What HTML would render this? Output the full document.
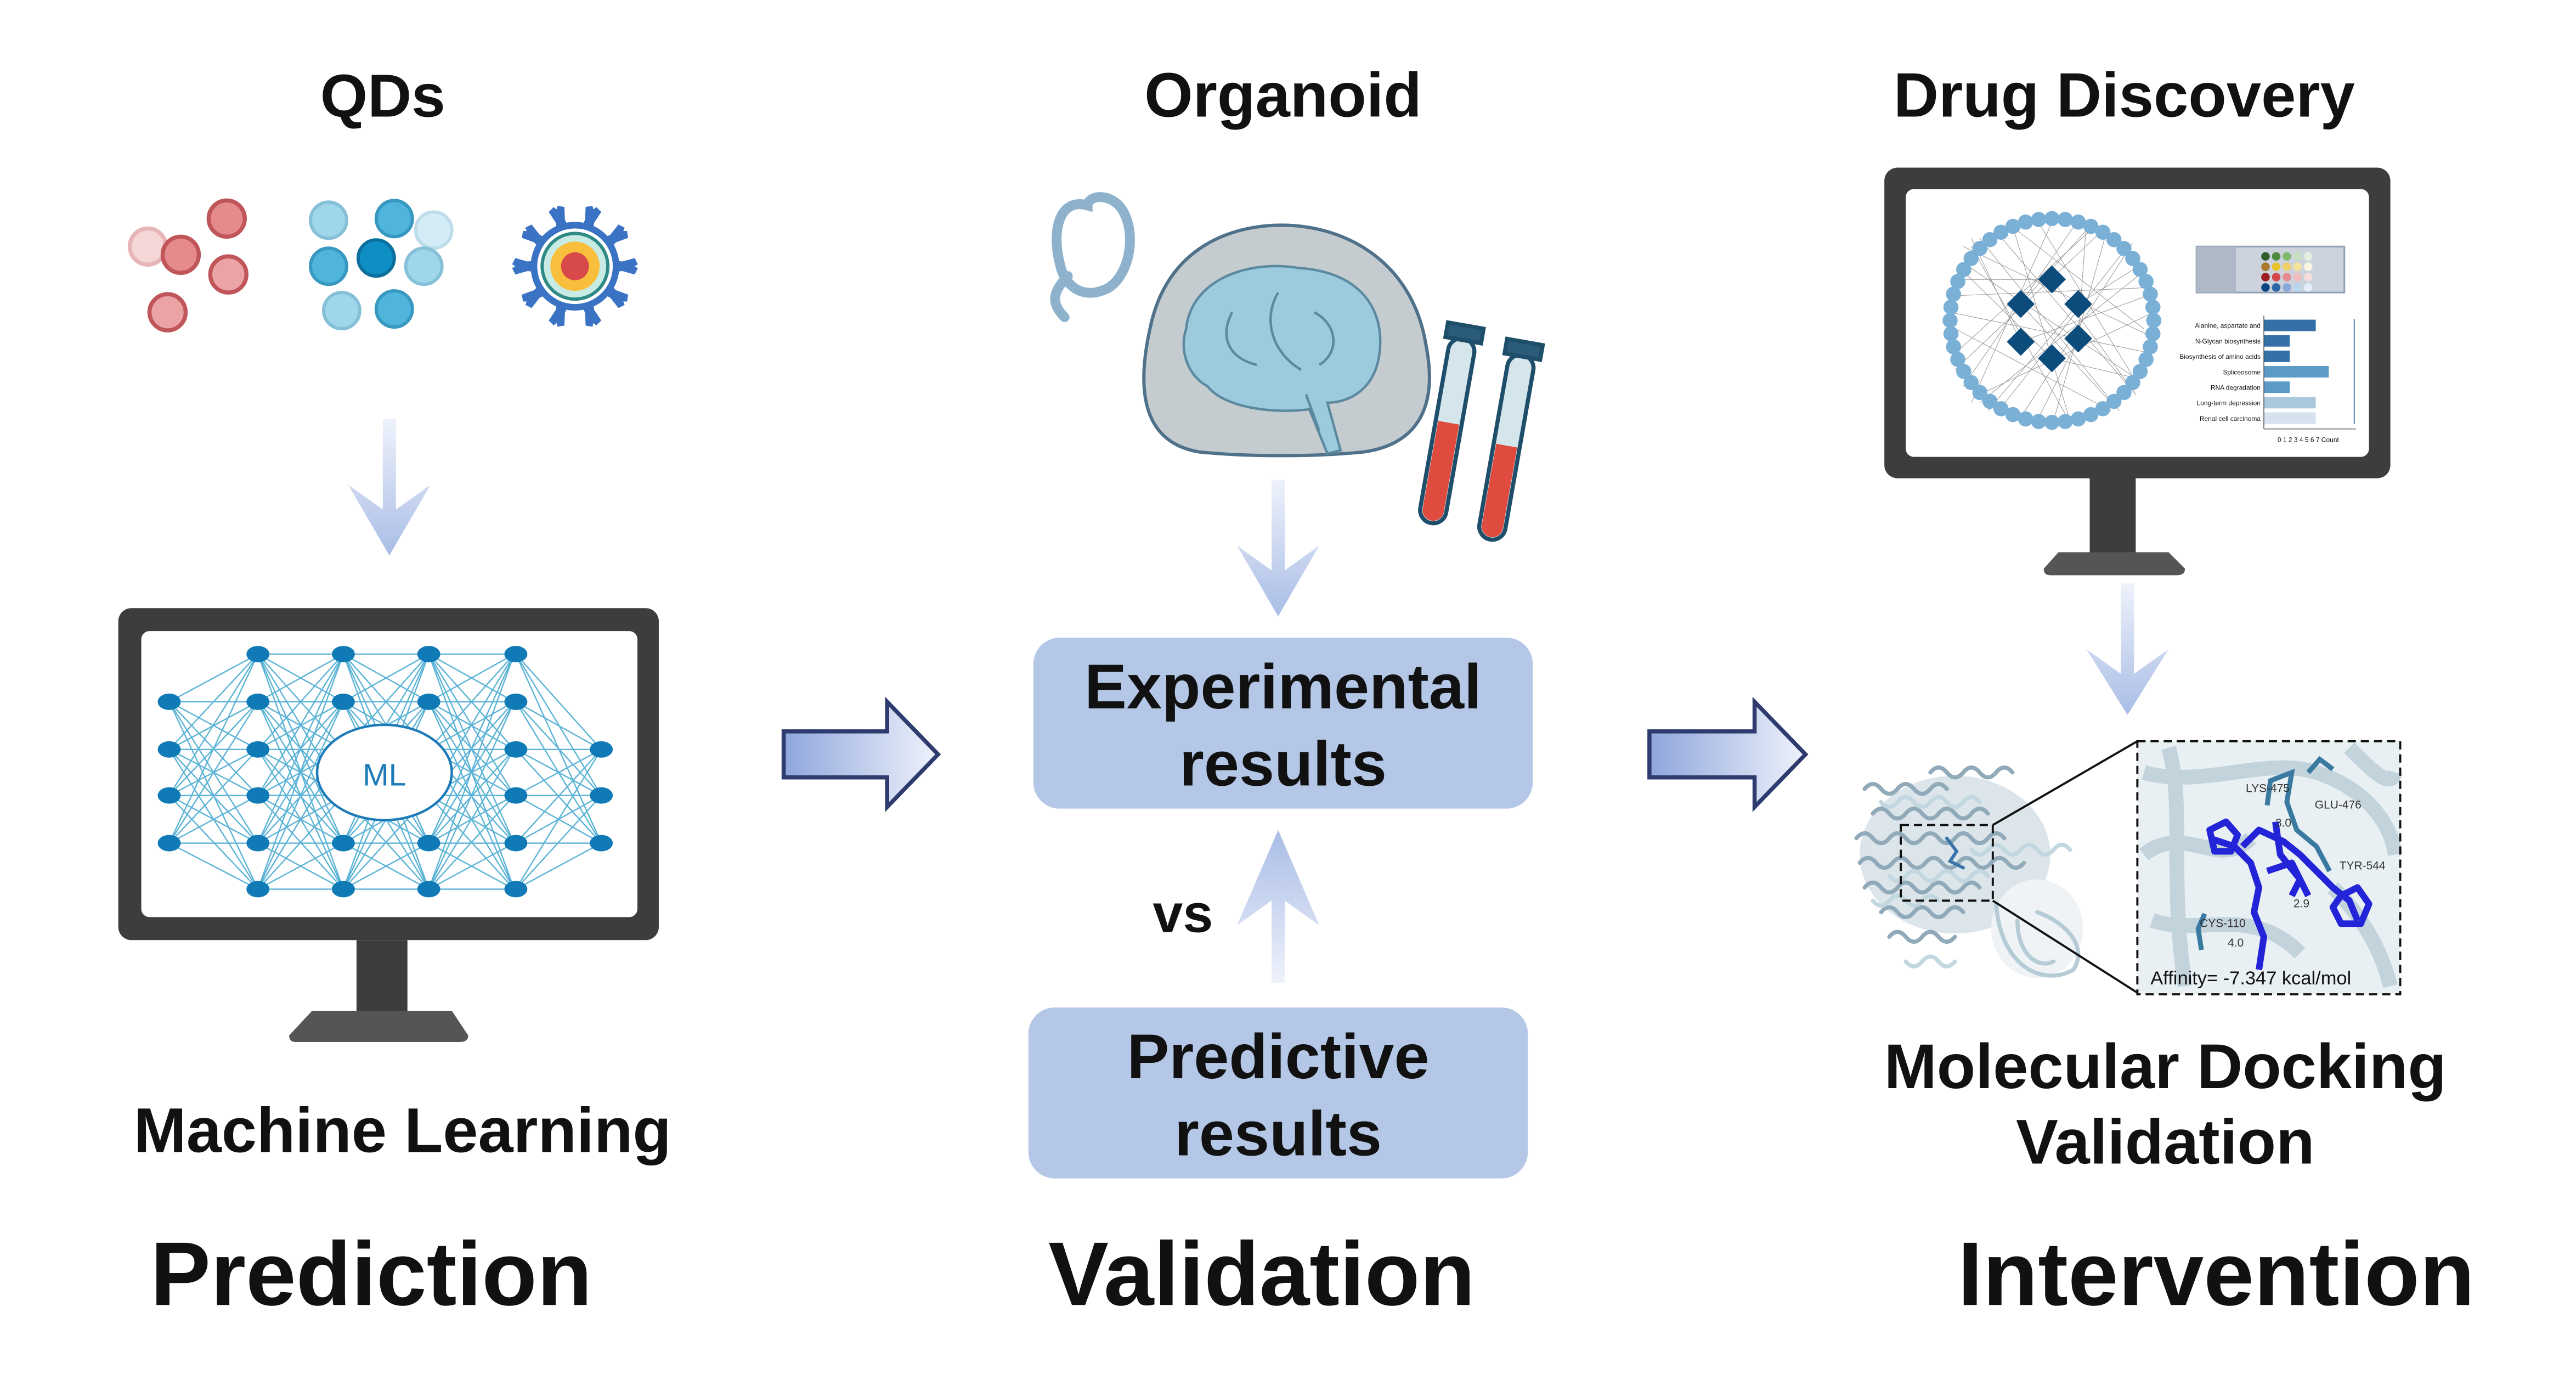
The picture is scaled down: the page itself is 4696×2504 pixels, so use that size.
<!DOCTYPE html>
<html><head><meta charset="utf-8"><style>
html,body{margin:0;padding:0;background:#fff;}
svg{display:block;}
text{font-family:"Liberation Sans",Arial,sans-serif;font-weight:bold;fill:#111;}
.n{font-weight:normal;}
</style></head><body>
<svg width="4696" height="2504" viewBox="0 0 1568 836" preserveAspectRatio="none" xmlns="http://www.w3.org/2000/svg" xmlns:xlink="http://www.w3.org/1999/xlink">
<defs>
<linearGradient id="gv" x1="0" y1="0" x2="0" y2="1"><stop offset="0" stop-color="#eef2fb"/><stop offset="1" stop-color="#a9bde6"/></linearGradient>
<linearGradient id="gvu" x1="0" y1="1" x2="0" y2="0"><stop offset="0" stop-color="#eef2fb"/><stop offset="1" stop-color="#a9bde6"/></linearGradient>
<linearGradient id="gh" x1="0" y1="0" x2="1" y2="0"><stop offset="0" stop-color="#8fa6dc"/><stop offset="1" stop-color="#eef2fb"/></linearGradient>
<path id="b66" fill="none" stroke="#5bb3d6" stroke-width="0.8" d="M0 398L52 398M0 398L52 427M0 398L52 456M0 398L52 484M0 398L52 513M0 398L52 541M0 427L52 398M0 427L52 427M0 427L52 456M0 427L52 484M0 427L52 513M0 427L52 541M0 456L52 398M0 456L52 427M0 456L52 456M0 456L52 484M0 456L52 513M0 456L52 541M0 484L52 398M0 484L52 427M0 484L52 456M0 484L52 484M0 484L52 513M0 484L52 541M0 513L52 398M0 513L52 427M0 513L52 456M0 513L52 484M0 513L52 513M0 513L52 541M0 541L52 398M0 541L52 427M0 541L52 456M0 541L52 484M0 541L52 513M0 541L52 541"/>
<g id="col6"><ellipse cx="0" cy="398" rx="7" ry="5"/><ellipse cx="0" cy="427" rx="7" ry="5"/><ellipse cx="0" cy="456" rx="7" ry="5"/><ellipse cx="0" cy="484" rx="7" ry="5"/><ellipse cx="0" cy="513" rx="7" ry="5"/><ellipse cx="0" cy="541" rx="7" ry="5"/></g>
<path id="tooth" d="M345 136 L355 136 L358 130 L363 126 L366 129 L360 138 L340 138 L334 129 L337 126 L342 130 Z" fill="#3a73c4"/>
<circle id="rc" cx="1311" cy="195" r="4.6" fill="#7aafd6"/>
</defs>
<rect width="1568" height="836" fill="#fff"/>

<text x="233" y="71" font-size="37" text-anchor="middle">QDs</text>
<text x="781" y="71" font-size="38" text-anchor="middle">Organoid</text>
<text x="1293" y="71" font-size="38" text-anchor="middle">Drug Discovery</text>

<g stroke="#c0555a" stroke-width="2.5">
<circle cx="90" cy="150" r="11" fill="#f4d6d7" stroke="#e8b5b7"/>
<circle cx="110" cy="155" r="11" fill="#e58a8d"/>
<circle cx="138" cy="133" r="11" fill="#e58a8d"/>
<circle cx="139" cy="167" r="11" fill="#eba3a5"/>
<circle cx="102" cy="190" r="11" fill="#eba3a5"/>
</g>
<g stroke-width="2">
<circle cx="200" cy="134" r="11" fill="#9fd6ea" stroke="#85c0d8"/>
<circle cx="240" cy="133" r="11" fill="#4fb5dc" stroke="#3798c0"/>
<circle cx="264" cy="140" r="11" fill="#d4ecf5" stroke="#bcdde9"/>
<circle cx="200" cy="162" r="11" fill="#4fb5dc" stroke="#3798c0"/>
<circle cx="229" cy="157" r="11" fill="#0e8fc4" stroke="#0a6f9c"/>
<circle cx="258" cy="162" r="11" fill="#9fd6ea" stroke="#85c0d8"/>
<circle cx="208" cy="189" r="11" fill="#9fd6ea" stroke="#85c0d8"/>
<circle cx="240" cy="188" r="11" fill="#4fb5dc" stroke="#3798c0"/>
</g>
<circle cx="350" cy="162" r="27" fill="#3a73c4"/>
<use xlink:href="#tooth" transform="rotate(0 350 162)"/>
<use xlink:href="#tooth" transform="rotate(36 350 162)"/>
<use xlink:href="#tooth" transform="rotate(72 350 162)"/>
<use xlink:href="#tooth" transform="rotate(108 350 162)"/>
<use xlink:href="#tooth" transform="rotate(144 350 162)"/>
<use xlink:href="#tooth" transform="rotate(180 350 162)"/>
<use xlink:href="#tooth" transform="rotate(216 350 162)"/>
<use xlink:href="#tooth" transform="rotate(252 350 162)"/>
<use xlink:href="#tooth" transform="rotate(288 350 162)"/>
<use xlink:href="#tooth" transform="rotate(324 350 162)"/>
<circle cx="350" cy="162" r="23" fill="#fff"/>
<circle cx="350" cy="162" r="20" fill="#c8ebe6" stroke="#2f8a86" stroke-width="2"/>
<circle cx="350" cy="162" r="15" fill="#f9bf3c"/>
<circle cx="350" cy="162" r="8.5" fill="#d84a4a"/>

<path d="M233 255 H241 V310 L262 295 L237 338 L212 295 L233 310 Z" fill="url(#gv)"/>
<path d="M774 292 H782 V347 L803 332 L778 375 L753 332 L774 347 Z" fill="url(#gv)"/>
<path d="M774 598 H782 V548 L803 563 L778 505 L753 563 L774 548 Z" fill="url(#gvu)"/>
<path d="M1291 355 H1299 V410 L1320 395 L1295 435 L1270 395 L1291 410 Z" fill="url(#gv)"/>

<path d="M477 445 H540 V427 L571 459 L540 491 V473 H477 Z" fill="url(#gh)" stroke="#2e3b6e" stroke-width="2.5"/>
<path d="M1004 445 H1068 V427 L1099 459 L1068 491 V473 H1004 Z" fill="url(#gh)" stroke="#2e3b6e" stroke-width="2.5"/>

<rect x="72" y="370" width="329" height="202" rx="8" fill="#3d3d3d"/>
<rect x="86" y="384" width="302" height="174" rx="5" fill="#fff"/>
<rect x="217" y="572" width="31" height="45" fill="#3d3d3d"/>
<path d="M190 615 H275 L285 630 Q285 634 280 634 H180 Q176 634 176 630 Z" fill="#555"/>
<g fill="none" stroke="#5bb3d6" stroke-width="0.8">
<path d="M103 427L157 398M103 427L157 427M103 427L157 456M103 427L157 484M103 427L157 513M103 427L157 541M103 456L157 398M103 456L157 427M103 456L157 456M103 456L157 484M103 456L157 513M103 456L157 541M103 484L157 398M103 484L157 427M103 484L157 456M103 484L157 484M103 484L157 513M103 484L157 541M103 513L157 398M103 513L157 427M103 513L157 456M103 513L157 484M103 513L157 513M103 513L157 541"/>
<path d="M314 398L366 456M314 398L366 484M314 398L366 513M314 427L366 456M314 427L366 484M314 427L366 513M314 456L366 456M314 456L366 484M314 456L366 513M314 484L366 456M314 484L366 484M314 484L366 513M314 513L366 456M314 513L366 484M314 513L366 513M314 541L366 456M314 541L366 484M314 541L366 513"/>
</g>
<use xlink:href="#b66" transform="translate(157 0)"/>
<use xlink:href="#b66" transform="translate(209 0)"/>
<use xlink:href="#b66" transform="translate(261 0)"/>
<g fill="#0f7ab5">
<ellipse cx="103" cy="427" rx="7" ry="5"/><ellipse cx="103" cy="456" rx="7" ry="5"/><ellipse cx="103" cy="484" rx="7" ry="5"/><ellipse cx="103" cy="513" rx="7" ry="5"/>
<use xlink:href="#col6" transform="translate(157 0)"/>
<use xlink:href="#col6" transform="translate(209 0)"/>
<use xlink:href="#col6" transform="translate(261 0)"/>
<use xlink:href="#col6" transform="translate(314 0)"/>
<ellipse cx="366" cy="456" rx="7" ry="5"/><ellipse cx="366" cy="484" rx="7" ry="5"/><ellipse cx="366" cy="513" rx="7" ry="5"/>
</g>
<ellipse cx="234" cy="470" rx="41" ry="29" fill="#fff" stroke="#1d7bb8" stroke-width="1.5"/>
<text x="234" y="478" font-size="19" text-anchor="middle" class="n" style="fill:#1d7bb8">ML</text>

<text x="245" y="701" font-size="38.5" text-anchor="middle">Machine Learning</text>
<text x="226" y="794" font-size="55" text-anchor="middle">Prediction</text>

<path d="M662 125 C645 120 640 140 645 160 C648 175 660 183 675 175 C690 165 692 135 680 124 C672 117 662 120 662 125 Z M650 168 C640 178 640 185 648 193" fill="none" stroke="#8fb2cc" stroke-width="6" stroke-linecap="round"/>
<path d="M700 200 C710 150 750 137 780 137 C820 137 860 160 868 210 C875 245 865 270 830 275 C800 278 760 278 730 275 C700 270 690 245 700 200 Z" fill="#c5ccd0" stroke="#4f7189" stroke-width="2"/>
<path d="M722 200 C725 170 760 158 790 163 C825 165 842 185 840 212 C838 238 820 245 808 245 L816 274 L808 276 L797 249 C775 252 745 248 735 235 C722 228 718 212 722 200 Z" fill="#9bcbdc" stroke="#5b8aa0" stroke-width="1.5"/>
<path d="M750 190 C742 205 748 218 765 222 M778 178 C768 195 775 215 792 225 M800 190 C815 198 815 215 803 222 M795 240 L803 262" fill="none" stroke="#5b8aa0" stroke-width="1.5"/>
<g transform="rotate(10 891 205)" stroke="#1f4e6b" stroke-width="2.5">
<rect x="883" y="206" width="16" height="114" rx="8" fill="#d4e6ec"/>
<path d="M884.5 258 H897.5 V312 A6.5 6.5 0 0 1 884.5 312 Z" fill="#e04b40" stroke="none"/>
<rect x="880" y="198" width="22" height="9" fill="#2a5b78"/>
</g>
<g transform="rotate(10 927 215)" stroke="#1f4e6b" stroke-width="2.5">
<rect x="919" y="216" width="16" height="114" rx="8" fill="#d4e6ec"/>
<path d="M920.5 272 H933.5 V322 A6.5 6.5 0 0 1 920.5 322 Z" fill="#e04b40" stroke="none"/>
<rect x="916" y="208" width="22" height="9" fill="#2a5b78"/>
</g>

<rect x="629" y="388" width="304" height="104" rx="16" fill="#b4c7e7"/>
<text x="781" y="431" font-size="38.5" text-anchor="middle">Experimental</text>
<text x="781" y="478" font-size="38.5" text-anchor="middle">results</text>
<text x="720" y="567" font-size="33" text-anchor="middle">vs</text>
<rect x="626" y="613" width="304" height="104" rx="16" fill="#b4c7e7"/>
<text x="778" y="656" font-size="38.5" text-anchor="middle">Predictive</text>
<text x="778" y="703" font-size="38.5" text-anchor="middle">results</text>
<text x="768" y="794" font-size="55" text-anchor="middle">Validation</text>

<rect x="1147" y="102" width="308" height="189" rx="8" fill="#3d3d3d"/>
<rect x="1160" y="115" width="282" height="163" rx="5" fill="#fff"/>
<rect x="1272" y="290" width="28" height="50" fill="#3d3d3d"/>
<path d="M1253 336 H1320 L1330 346 Q1330 350 1325 350 H1248 Q1244 350 1244 346 Z" fill="#555"/>
<g stroke="#9a9a9a" stroke-width="0.35" fill="none">
<path d="M1195 160L1300 230M1205 145L1290 250M1225 138L1305 200M1250 133L1200 245M1275 138L1190 215M1295 150L1215 252M1308 175L1188 180M1310 205L1195 150M1302 235L1240 134M1285 250L1190 200M1260 256L1225 137M1230 254L1298 148M1205 240L1311 190M1190 225L1280 140M1187 190L1310 215M1200 150L1260 257M1216 142L1300 240M1265 134L1195 235M1282 142L1250 256M1305 165L1205 245M1230 185L1285 245M1249 170L1190 170M1265 185L1305 160M1230 208L1200 145M1265 206L1240 256M1249 218L1300 230M1230 185L1270 140M1265 185L1210 250M1249 170L1300 240M1230 208L1307 180M1249 218L1195 165M1265 206L1270 135"/>
</g>
<use xlink:href="#rc" transform="rotate(0 1249 195)"/><use xlink:href="#rc" transform="rotate(7.5 1249 195)"/><use xlink:href="#rc" transform="rotate(15 1249 195)"/><use xlink:href="#rc" transform="rotate(22.5 1249 195)"/><use xlink:href="#rc" transform="rotate(30 1249 195)"/><use xlink:href="#rc" transform="rotate(37.5 1249 195)"/><use xlink:href="#rc" transform="rotate(45 1249 195)"/><use xlink:href="#rc" transform="rotate(52.5 1249 195)"/><use xlink:href="#rc" transform="rotate(60 1249 195)"/><use xlink:href="#rc" transform="rotate(67.5 1249 195)"/><use xlink:href="#rc" transform="rotate(75 1249 195)"/><use xlink:href="#rc" transform="rotate(82.5 1249 195)"/><use xlink:href="#rc" transform="rotate(90 1249 195)"/><use xlink:href="#rc" transform="rotate(97.5 1249 195)"/><use xlink:href="#rc" transform="rotate(105 1249 195)"/><use xlink:href="#rc" transform="rotate(112.5 1249 195)"/><use xlink:href="#rc" transform="rotate(120 1249 195)"/><use xlink:href="#rc" transform="rotate(127.5 1249 195)"/><use xlink:href="#rc" transform="rotate(135 1249 195)"/><use xlink:href="#rc" transform="rotate(142.5 1249 195)"/><use xlink:href="#rc" transform="rotate(150 1249 195)"/><use xlink:href="#rc" transform="rotate(157.5 1249 195)"/><use xlink:href="#rc" transform="rotate(165 1249 195)"/><use xlink:href="#rc" transform="rotate(172.5 1249 195)"/><use xlink:href="#rc" transform="rotate(180 1249 195)"/><use xlink:href="#rc" transform="rotate(187.5 1249 195)"/><use xlink:href="#rc" transform="rotate(195 1249 195)"/><use xlink:href="#rc" transform="rotate(202.5 1249 195)"/><use xlink:href="#rc" transform="rotate(210 1249 195)"/><use xlink:href="#rc" transform="rotate(217.5 1249 195)"/><use xlink:href="#rc" transform="rotate(225 1249 195)"/><use xlink:href="#rc" transform="rotate(232.5 1249 195)"/><use xlink:href="#rc" transform="rotate(240 1249 195)"/><use xlink:href="#rc" transform="rotate(247.5 1249 195)"/><use xlink:href="#rc" transform="rotate(255 1249 195)"/><use xlink:href="#rc" transform="rotate(262.5 1249 195)"/><use xlink:href="#rc" transform="rotate(270 1249 195)"/><use xlink:href="#rc" transform="rotate(277.5 1249 195)"/><use xlink:href="#rc" transform="rotate(285 1249 195)"/><use xlink:href="#rc" transform="rotate(292.5 1249 195)"/><use xlink:href="#rc" transform="rotate(300 1249 195)"/><use xlink:href="#rc" transform="rotate(307.5 1249 195)"/><use xlink:href="#rc" transform="rotate(315 1249 195)"/><use xlink:href="#rc" transform="rotate(322.5 1249 195)"/><use xlink:href="#rc" transform="rotate(330 1249 195)"/><use xlink:href="#rc" transform="rotate(337.5 1249 195)"/><use xlink:href="#rc" transform="rotate(345 1249 195)"/><use xlink:href="#rc" transform="rotate(352.5 1249 195)"/>
<g fill="#0b4c7c">
<rect x="1224" y="179" width="12" height="12" transform="rotate(45 1230 185)"/>
<rect x="1243" y="164" width="12" height="12" transform="rotate(45 1249 170)"/>
<rect x="1259" y="179" width="12" height="12" transform="rotate(45 1265 185)"/>
<rect x="1224" y="202" width="12" height="12" transform="rotate(45 1230 208)"/>
<rect x="1259" y="200" width="12" height="12" transform="rotate(45 1265 206)"/>
<rect x="1243" y="212" width="12" height="12" transform="rotate(45 1249 218)"/>
</g>
<rect x="1337" y="150" width="90" height="28" fill="#ccd3dd" stroke="#8fa0b5"/>
<rect x="1337" y="150" width="24" height="28" fill="#aeb8c7"/>
<g>
<circle cx="1379" cy="156" r="2.6" fill="#2f5e2a"/><circle cx="1385.5" cy="156" r="2.6" fill="#4f8a3e"/><circle cx="1392" cy="156" r="2.6" fill="#7dbb6a"/><circle cx="1398.5" cy="156" r="2.6" fill="#c8e0c0"/><circle cx="1405" cy="156" r="2.6" fill="#e4efe0"/>
<circle cx="1379" cy="162.3" r="2.6" fill="#a97a2e"/><circle cx="1385.5" cy="162.3" r="2.6" fill="#e7c22d"/><circle cx="1392" cy="162.3" r="2.6" fill="#f0cf6a"/><circle cx="1398.5" cy="162.3" r="2.6" fill="#f4e39a"/><circle cx="1405" cy="162.3" r="2.6" fill="#fbf6e3"/>
<circle cx="1379" cy="168.6" r="2.6" fill="#9c1e22"/><circle cx="1385.5" cy="168.6" r="2.6" fill="#d4474c"/><circle cx="1392" cy="168.6" r="2.6" fill="#e58a8d"/><circle cx="1398.5" cy="168.6" r="2.6" fill="#f2bcbe"/><circle cx="1405" cy="168.6" r="2.6" fill="#f7dede"/>
<circle cx="1379" cy="174.9" r="2.6" fill="#0d4582"/><circle cx="1385.5" cy="174.9" r="2.6" fill="#2f68a8"/><circle cx="1392" cy="174.9" r="2.6" fill="#8aa8d8"/><circle cx="1398.5" cy="174.9" r="2.6" fill="#b8d6f0"/><circle cx="1405" cy="174.9" r="2.6" fill="#e3eef8"/>
</g>
<g>
<rect x="1378" y="194.5" width="31.6" height="7" fill="#3571a8"/>
<rect x="1378" y="203.9" width="15.8" height="7" fill="#3571a8"/>
<rect x="1378" y="213.3" width="15.8" height="7" fill="#3571a8"/>
<rect x="1378" y="222.7" width="39.5" height="7" fill="#5b9bc6"/>
<rect x="1378" y="232.1" width="15.8" height="7" fill="#5b9bc6"/>
<rect x="1378" y="241.5" width="31.6" height="7" fill="#a9c8dc"/>
<rect x="1378" y="250.9" width="31.6" height="7" fill="#d6e3ee"/>
<line x1="1378" y1="192" x2="1378" y2="261" stroke="#333" stroke-width="0.4"/>
<line x1="1378" y1="261" x2="1434" y2="261" stroke="#333" stroke-width="0.4"/>
<line x1="1433" y1="194" x2="1433" y2="258" stroke="#3571a8" stroke-width="0.6"/>
</g>
<g font-size="4" text-anchor="end">
<text x="1376" y="199.5" class="n">Alanine, aspartate and</text>
<text x="1376" y="209" class="n">N-Glycan biosynthesis</text>
<text x="1376" y="218.4" class="n">Biosynthesis of amino acids</text>
<text x="1376" y="227.8" class="n">Spliceosome</text>
<text x="1376" y="237.2" class="n">RNA degradation</text>
<text x="1376" y="246.6" class="n">Long-term depression</text>
<text x="1376" y="256" class="n">Renal cell carcinoma</text>
</g>
<text x="1405" y="269" font-size="4" class="n" text-anchor="middle">0 1 2 3 4 5 6 7  Count</text>

<g fill="none" stroke-linecap="round" opacity="0.85">
<ellipse cx="1190" cy="520" rx="58" ry="48" fill="#d7e1e7" stroke="none"/>
<ellipse cx="1240" cy="565" rx="28" ry="30" fill="#eef2f5" stroke="none"/>
<path d="M1135 480 q5-6 10 0 t10 0 t10 0 t10 0 t10 0 M1140 495 q5-6 10 0 t10 0 t10 0 t10 0 t10 0 t10 0 t10 0 M1130 510 q5-6 10 0 t10 0 t10 0 t10 0 t10 0 t10 0 t10 0 t10 0 t10 0 M1132 525 q5-6 10 0 t10 0 t10 0 t10 0 t10 0 t10 0 t10 0 t10 0 t10 0 t10 0 M1135 540 q5-6 10 0 t10 0 t10 0 t10 0 t10 0 t10 0 t10 0 M1145 555 q5-6 10 0 t10 0 t10 0 t10 0 t10 0 M1150 570 q5-6 10 0 t10 0 t10 0 t10 0 M1175 470 q5-6 10 0 t10 0 t10 0 t10 0 t10 0" stroke="#7e9cae" stroke-width="2.5"/>
<path d="M1145 488 q5 6 10 0 t10 0 t10 0 t10 0 t10 0 t10 0 M1150 533 q5 6 10 0 t10 0 t10 0 t10 0 t10 0 t10 0 M1140 548 q5 6 10 0 t10 0 t10 0 t10 0 M1200 517 q5 6 10 0 t10 0 t10 0 t10 0 t10 0 t10 0 M1160 585 q5 6 10 0 t10 0 t10 0" stroke="#b9d1dc" stroke-width="2.5"/>
<path d="M1215 550 C1218 590 1245 600 1262 590 C1272 575 1255 560 1240 555 M1228 560 C1228 580 1240 590 1250 585" stroke="#a9c2cf" stroke-width="2.5"/>
<path d="M1185 510 l6 8 l-4 6 l8 4" stroke="#1b5c9c" stroke-width="2"/>
</g>
<rect x="1157" y="502" width="56" height="46" fill="none" stroke="#111" stroke-width="1.3" stroke-dasharray="5,3"/>
<line x1="1213" y1="502" x2="1301" y2="451" stroke="#111" stroke-width="1.3"/>
<line x1="1213" y1="548" x2="1301" y2="604" stroke="#111" stroke-width="1.3"/>
<rect x="1301" y="451" width="160" height="154" fill="#e9f0f3"/>
<path d="M1305 470 C1340 480 1380 460 1410 470 C1440 480 1455 500 1458 520 M1305 520 C1330 500 1350 530 1370 510 M1310 560 C1340 570 1370 550 1400 580 M1420 540 C1440 560 1450 580 1455 600 M1320 455 C1330 490 1320 530 1330 600 M1430 455 C1445 470 1455 480 1458 470" fill="none" stroke="#b8ccd6" stroke-width="9" opacity=".8"/>
<g fill="none" stroke="#2323d8" stroke-width="4" stroke-linejoin="round">
<path d="M1365 515 L1375 505 L1390 512 L1400 520 L1410 530 L1420 540 L1430 548 L1435 560"/>
<path d="M1345 510 L1360 515 L1370 525 L1375 540 L1372 555 L1378 570 L1375 590"/>
<path d="M1385 500 L1388 520 L1400 535 L1395 545 M1380 530 L1395 525 L1405 545"/>
<polygon points="1425,545 1435,540 1442,550 1437,562 1425,562 1420,552"/>
<polygon points="1345,505 1355,500 1362,508 1358,518 1348,518"/>
</g>
<g fill="none" stroke="#3a7aa0" stroke-width="3"><path d="M1380 490 L1382 475 L1395 470 L1392 488 L1398 505 L1410 515 L1418 530"/><path d="M1340 578 L1338 565 L1342 556"/><path d="M1405 470 L1412 462 L1420 468"/></g>
<g font-size="7">
<text x="1367" y="482" class="n" style="fill:#333">LYS-475</text>
<text x="1409" y="492" class="n" style="fill:#333">GLU-476</text>
<text x="1385" y="503" class="n" style="fill:#333">3.0</text>
<text x="1424" y="529" class="n" style="fill:#333">TYR-544</text>
<text x="1396" y="552" class="n" style="fill:#333">2.9</text>
<text x="1339" y="564" class="n" style="fill:#333">CYS-110</text>
<text x="1356" y="576" class="n" style="fill:#333">4.0</text>
</g>
<text x="1309" y="599" font-size="11.5" class="n">Affinity= -7.347 kcal/mol</text>
<rect x="1301" y="451" width="160" height="154" fill="none" stroke="#111" stroke-width="1.3" stroke-dasharray="5,3"/>

<text x="1318" y="662" font-size="38.5" text-anchor="middle">Molecular Docking</text>
<text x="1318" y="708" font-size="38.5" text-anchor="middle">Validation</text>
<text x="1349" y="794" font-size="55" text-anchor="middle">Intervention</text>
</svg>
</body></html>
